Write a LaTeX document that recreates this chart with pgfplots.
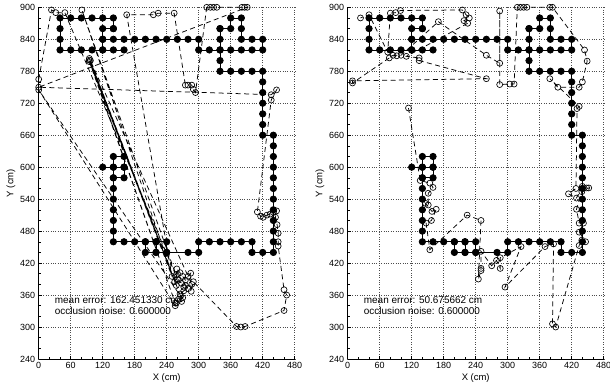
\documentclass[border=0pt]{standalone}
\usepackage{pgfplots}
\pgfplotsset{compat=1.18}
\usepackage{fontspec}
\setmainfont{Liberation Sans}
\pgfplotsset{
  myaxis/.style={
    scale only axis, width=256bp, height=351.7bp,
    xmin=0, xmax=480, ymin=240, ymax=900,
    xtick={0,60,...,480}, ytick={240,300,...,900},
    minor x tick num=2, minor y tick num=2,
    axis x line*=bottom, axis y line*=left,
    axis line style={-, line width=0.7pt},
    tick align=inside, major tick length=3bp, minor tick length=2bp,
    tick style={black, line width=0.5pt},
    grid=major, major grid style={dotted, black!70, line width=0.5pt},
    xlabel={X (cm)}, ylabel={Y (cm)},
    /pgf/number format/assume math mode=true,
    tick label style={font=\fontsize{9}{10}\selectfont},
    label style={font=\fontsize{9.5}{11}\selectfont},
    xlabel style={yshift=2bp}, ylabel style={yshift=-2bp},
    clip=false,
  },
}
\tikzset{
  gt/.style={black, line width=0.8pt, mark=*, mark size=3.2pt, mark options={solid, fill=black}},
  est/.style={black, line width=0.75pt, dash pattern=on 5pt off 3.5pt, mark=o, mark size=3pt, mark options={solid, line width=0.65pt}},
  txt/.style={anchor=west, font=\fontsize{10}{12}\selectfont, inner sep=0pt},
}
\newcommand{\groundtruth}{%
\addplot[gt] coordinates {(140,860) (140,880) (120,880) (100,880) (80,880) (60,880) (40,880) (40,860) (40,840) (40,820) (60,820) (80,820) (100,820) (120,820) (140,820) (160,820)};
\addplot[gt] coordinates {(140,860) (120,860) (120,840) (120,820)};
\addplot[gt] coordinates {(120,840) (140,840) (160,840) (180,840) (200,840) (220,840) (240,840) (260,840) (280,840) (300,840) (300,820) (320,820) (340,820) (360,820) (380,820) (400,820) (420,820) (420,840) (400,840) (380,840) (380,860) (380,880) (360,880) (360,860) (340,860)};
\addplot[gt] coordinates {(340,860) (340,840) (340,820) (340,800) (340,780) (360,780) (380,780) (400,780) (420,780) (420,760) (420,740) (420,720) (420,700) (420,680) (420,660) (440,660) (440,640) (440,620) (440,600) (440,580) (440,560) (440,540) (440,520) (440,500) (440,480) (440,460) (440,440) (420,440) (400,440) (400,460) (380,460) (360,460) (340,460) (320,460) (300,460) (300,440) (280,440) (240,440) (220,440) (200,440) (200,460) (180,460) (160,460) (140,460) (140,480) (140,500) (140,520) (140,540) (140,560) (140,580) (140,600) (140,620) (160,620) (160,600) (160,580) (140,580)};
\addplot[gt] coordinates {(200,460) (220,460) (240,460) (240,440)};
\addplot[gt] coordinates {(220,460) (220,440)};
\addplot[gt] coordinates {(120,600) (140,600) (160,600)};
}
\begin{document}
\begin{tikzpicture}
\path[use as bounding box] (-38.7bp,-28bp) rectangle (571.3bp,359bp);
\begin{axis}[myaxis, at={(0,0)}, anchor=south west]
\groundtruth
\addplot[est] coordinates {
(0,765) (24,895) (32,890) (49,890) (260,390) (81,895) (255,385) (95,804) (258,378) (95,798) (256,345) (95,801) (250,395) (165,886) (215,886) (224,889) (254,889) (275,754) (280,754) (287,754) (290,746) (294,740) (315,900) (322,900) (328,900) (334,900) (381,900) (386,900) (391,900) (0,750) (436,736) (446,745) (436,726) (410,516) (416,508) (421,506) (428,510) (434,512) (440,515) (446,518) (444,506) (447,492) (449,476) (449,460) (449,452) (460,370) (465,360) (460,331) (387,301) (379,300) (371,301) (290,385) (286,367) (285,401) (280,395) (275,388) (270,395) (265,402) (259,409) (258,398) (262,388) (268,382) (275,378) (280,372) (272,368) (265,362) (270,355) (262,352) (268,348) (258,345) (256,340) (0,745) (266,358) (97,800) (287,380) (272,375)
};
\node[txt] at (axis cs:30,350) {mean error: 162.451330 cm};
\node[txt] at (axis cs:30,331) {occlusion noise: 0.600000};
\end{axis}
\begin{axis}[myaxis, at={(309bp,0)}, anchor=south west]
\groundtruth
\addplot[est] coordinates {
(114,711) (136,575) (154,570) (160,562) (151,551) (151,529) (146,532) (158,517) (166,521) (157,500) (147,495) (154,445) (224,510) (250,500) (245,390) (250,406) (250,410) (250,442) (270,415) (279,425) (286,410) (286,430) (325,451) (295,375) (370,451) (386,456) (384,306) (390,300) (434,453) (439,463) (446,460) (434,478) (442,495) (434,495) (429,521) (439,554) (452,561) (448,561) (440,564) (429,542) (414,550) (428,560) (430,710) (434,714) (379,766) (394,750) (434,750) (440,760) (449,799) (444,820) (384,900) (379,900) (336,900) (330,900) (324,900) (318,900) (312,756) (304,756) (285,755) (285,893) (285,795) (260,810) (170,873) (100,810) (92,809) (85,810) (78,805) (9,758) (9,762) (260,766) (134,800) (134,805) (110,808) (225,870) (218,875) (228,880) (222,886) (215,895) (99,894) (90,890) (80,889) (75,816) (40,886) (24,880)
};
\node[txt] at (axis cs:30,350) {mean error: 50.675662 cm};
\node[txt] at (axis cs:30,331) {occlusion noise: 0.600000};
\end{axis}
\end{tikzpicture}
\end{document}
